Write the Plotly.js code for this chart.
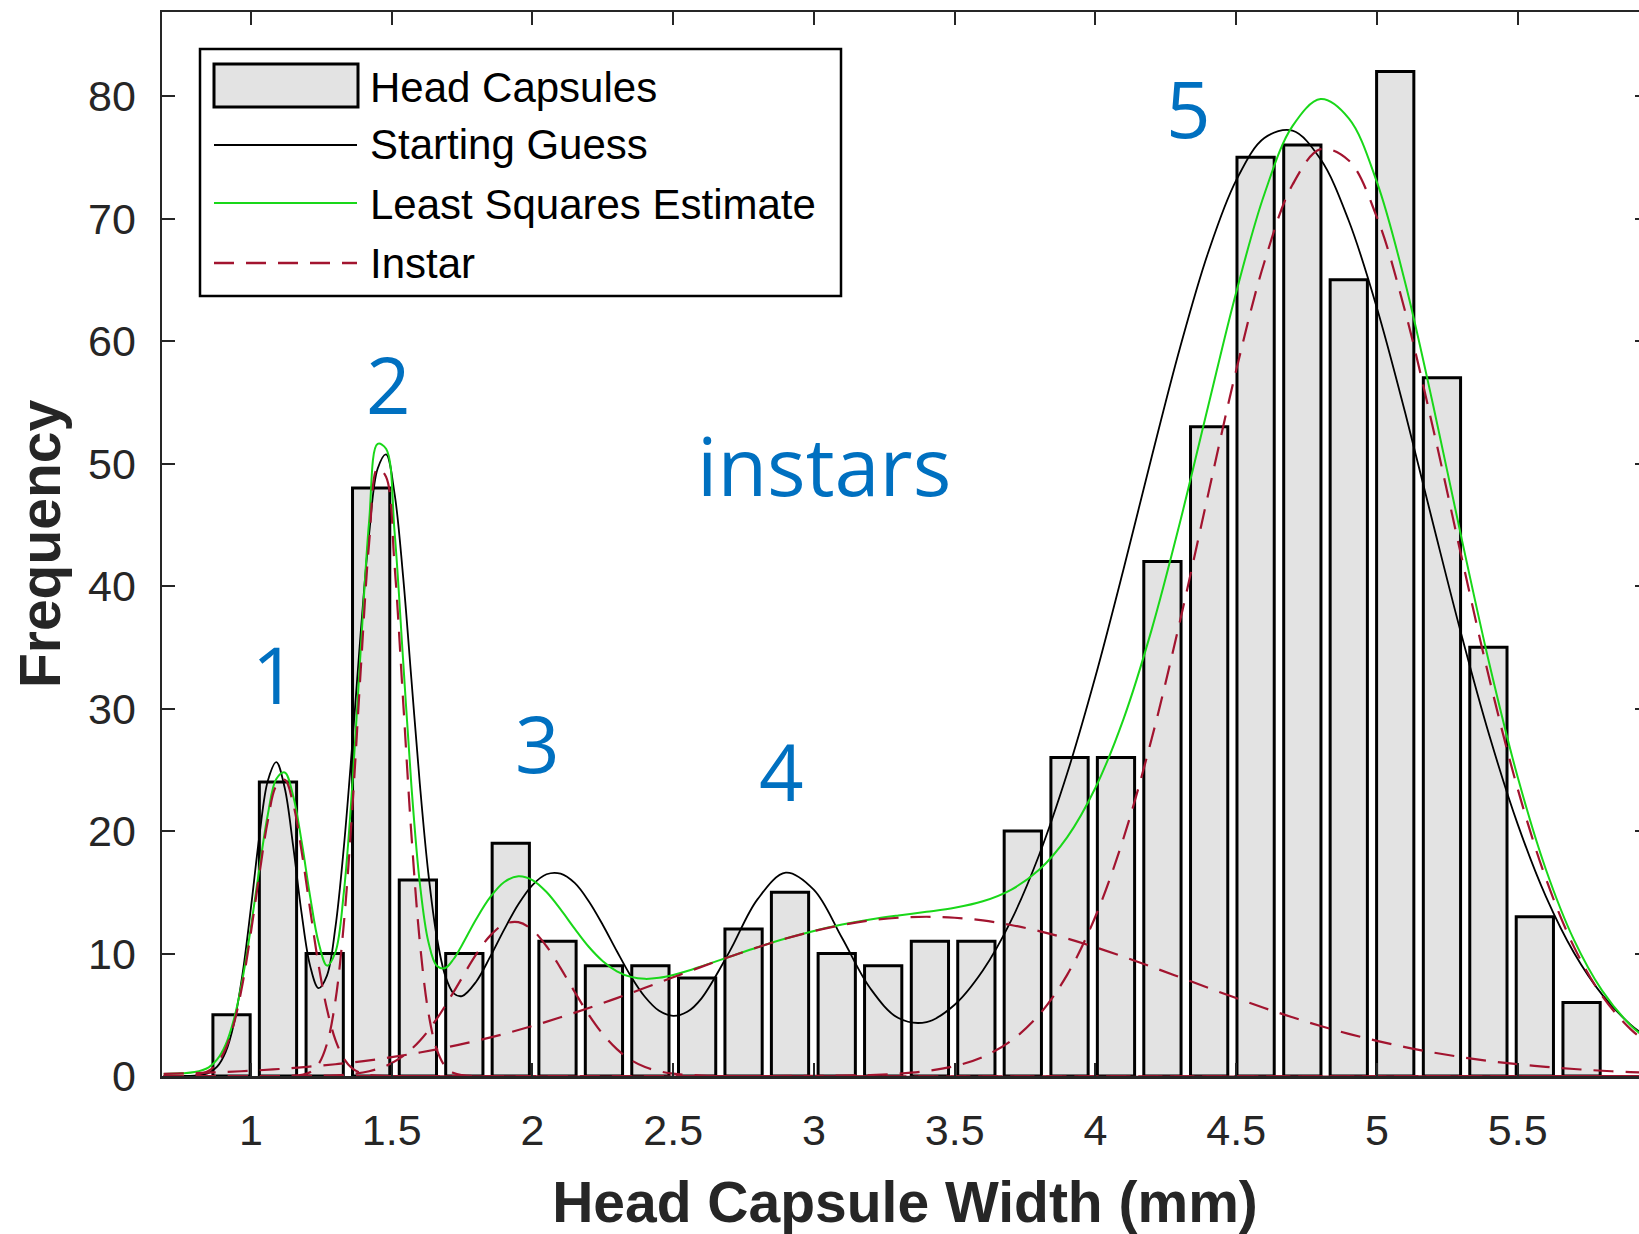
<!DOCTYPE html>
<html>
<head>
<meta charset="utf-8">
<script src="https://cdn.plot.ly/plotly-3.0.1.min.js"></script>
<style>
html,body{margin:0;padding:0;overflow:hidden;background:#ffffff;}
#chart{width:1660px;height:1234px;}
</style>
</head>
<body>
<div id="chart"></div>
<script>
// ---------------- data ----------------
const binCenters = [0.931, 1.096, 1.262, 1.427, 1.593, 1.758, 1.923, 2.089, 2.254, 2.419,
                    2.585, 2.750, 2.915, 3.081, 3.246, 3.412, 3.577, 3.742, 3.908, 4.073,
                    4.238, 4.404, 4.569, 4.735, 4.900, 5.065, 5.231, 5.396, 5.561, 5.727];
const counts = [5, 24, 10, 48, 16, 10, 19, 11, 9, 9,
                8, 12, 15, 10, 9, 11, 11, 20, 26, 26,
                42, 53, 75, 76, 65, 82, 57, 35, 13, 6];

const curveX = [0.69,0.75,0.80,0.85,0.88,0.91,0.94,0.97,1.00,1.03,1.06,1.09,1.12,1.15,1.18,1.21,1.24,1.27,1.30,1.33,
                1.36,1.39,1.42,1.45,1.48,1.51,1.54,1.57,1.60,1.63,1.66,1.69,1.72,1.75,
                1.80,1.85,1.90,1.95,2.00,2.05,2.10,2.15,2.20,2.25,2.30,2.35,2.40,2.45,2.50,2.55,2.60,
                2.70,2.80,2.90,3.00,3.10,3.20,3.30,3.40,3.50,3.60,3.70,3.80,3.90,4.00,4.10,4.20,4.30,4.40,4.50,
                4.60,4.70,4.80,4.90,5.00,5.10,5.20,5.30,5.40,5.50,5.60,5.70,5.80,5.90,5.97];
const startingGuess = [0,0,0.03,0.25,0.76,1.95,4.33,8.31,13.74,19.60,24.11,25.63,23.51,18.76,13.28,9.01,7.17,8.20,12.13,18.68,
                27.10,36.21,44.30,49.57,50.75,47.57,40.91,32.39,23.83,16.58,11.36,8.20,6.75,6.53,
                7.70,9.74,11.97,14.02,15.59,16.47,16.52,15.76,14.27,12.33,10.18,8.13,6.45,5.32,4.91,5.24,6.32,
                10.15,14.44,16.60,15.19,11.26,7.16,4.73,4.40,5.82,8.61,12.66,18.04,24.73,32.61,41.39,50.55,59.41,67.19,73.12,
                76.57,77.17,74.83,69.82,62.70,54.18,45.04,36.04,27.75,20.56,14.66,10.06,6.64,4.22,3.00];
const leastSquares = [0.17,0.22,0.32,0.71,1.35,2.56,4.68,7.91,12.17,16.96,21.35,24.24,24.78,22.86,19.14,14.69,10.92,9.01,10.10,14.99,
                23.70,34.82,45.34,51.60,51.21,44.49,34.13,23.71,15.72,10.98,9.00,8.81,9.55,10.70,
                12.80,14.60,15.84,16.31,16.00,15.02,13.60,12.03,10.55,9.37,8.55,8.09,7.93,8.02,8.25,8.57,8.95,
                9.73,10.51,11.22,11.84,12.36,12.78,13.11,13.40,13.73,14.26,15.20,16.83,19.50,23.53,29.16,36.46,45.16,54.64,63.97,
                71.98,77.54,79.75,78.18,72.97,64.80,54.74,43.97,33.59,24.41,16.88,11.11,6.97,4.17,2.84];

const instar1X = [0.69,0.75,0.80,0.85,0.88,0.91,0.94,0.97,1.00,1.03,1.06,1.09,1.12,1.15,1.18,1.21,1.24,1.27,1.30,1.33,1.36,1.39,1.42,1.45,1.50,5.97];
const instar1Y = [0,0.01,0.08,0.43,1.04,2.23,4.32,7.51,11.74,16.49,20.84,23.68,24.18,22.21,18.34,13.62,9.09,5.46,2.95,1.43,0.62,0.24,0.09,0.03,0,0];

const instar2X = [0.69,1.12,1.15,1.18,1.21,1.24,1.27,1.30,1.33,1.36,1.39,1.42,1.45,1.48,1.51,1.54,1.57,1.60,1.63,1.66,1.69,1.72,1.75,1.80,5.97];
const instar2Y = [0,0,0.02,0.09,0.31,0.97,2.62,6.13,12.43,21.81,33.14,43.58,49.62,48.91,41.74,30.83,19.72,10.92,5.23,2.17,0.78,0.24,0.07,0.01,0];

const instar3X = [0.69,1.24,1.30,1.36,1.42,1.48,1.54,1.60,1.66,1.72,1.80,1.85,1.90,1.95,2.00,2.05,2.10,2.15,2.20,2.25,2.30,2.35,2.40,2.45,2.50,2.60,2.70,5.97];
const instar3Y = [0,0.02,0.06,0.16,0.39,0.83,1.62,2.88,4.66,6.86,9.92,11.46,12.40,12.56,11.92,10.59,8.81,6.86,5.00,3.42,2.19,1.31,0.73,0.39,0.19,0.04,0,0];

const instar4X = [0.69,0.80,0.90,1.00,1.10,1.20,1.30,1.40,1.50,1.60,1.70,1.80,1.90,2.00,2.10,2.20,2.30,2.40,2.50,2.60,
                  2.70,2.80,2.90,3.00,3.10,3.20,3.30,3.40,3.50,3.60,3.70,3.80,3.90,4.00,4.10,4.20,4.30,4.40,4.50,4.60,
                  4.70,4.80,4.90,5.00,5.10,5.20,5.30,5.40,5.50,5.60,5.70,5.80,5.90,5.97];
const instar4Y = [0.17,0.24,0.32,0.43,0.57,0.75,0.96,1.22,1.54,1.92,2.36,2.87,3.44,4.08,4.79,5.55,6.36,7.20,8.06,8.91,
                  9.73,10.51,11.22,11.83,12.33,12.70,12.92,13.00,12.92,12.70,12.33,11.83,11.22,10.51,9.73,8.91,8.06,7.20,6.36,5.55,
                  4.79,4.08,3.44,2.87,2.36,1.92,1.54,1.22,0.96,0.75,0.57,0.43,0.32,0.26];

const instar5X = [0.69,2.80,3.00,3.10,3.20,3.30,3.40,3.50,3.60,3.70,3.80,3.90,4.00,4.10,4.20,4.30,4.40,4.50,4.60,4.70,
                  4.80,4.90,5.00,5.10,5.20,5.30,5.40,5.50,5.60,5.70,5.80,5.90,5.97];
const instar5Y = [0,0,0.01,0.03,0.08,0.19,0.40,0.81,1.56,2.87,5.00,8.28,13.02,19.43,27.55,37.10,47.44,57.61,66.43,72.75,
                  75.67,74.74,70.10,62.44,52.82,42.43,32.37,23.45,16.13,10.54,6.54,3.85,2.58];

const xTickVals = [1, 1.5, 2, 2.5, 3, 3.5, 4, 4.5, 5, 5.5];
const xTickText = ['1', '1.5', '2', '2.5', '3', '3.5', '4', '4.5', '5', '5.5'];
const yTickVals = [0, 10, 20, 30, 40, 50, 60, 70, 80];
const yTickText = ['0', '10', '20', '30', '40', '50', '60', '70', '80'];

const seriesNames = ['Head Capsules', 'Starting Guess', 'Least Squares Estimate', 'Instar'];
const instarLabels = ['1', '2', '3', '4', '5'];
const xAxisTitle = 'Head Capsule Width (mm)';
const yAxisTitle = 'Frequency';
const noteText = 'instars';

// ---------------- styling ----------------
const AXIS_COLOR = '#262626';
const BAR_FILL = '#e3e3e3';
const GREEN = 'rgb(25,215,25)';
const RED = '#a2142f';
const BLUE = '#0070c0';
const FONT = 'Liberation Sans, Arial, Helvetica, sans-serif';
const DASH = '20px,12px';

// plot area in page pixels (used only to place the hand-drawn legend)
const PL = 162, PR = 1648, PT = 12, PB = 1076;
const px = v => (v - PL) / (PR - PL);
const py = v => (PB - v) / (PB - PT);

const instarSets = [[instar1X, instar1Y], [instar2X, instar2Y], [instar3X, instar3Y], [instar4X, instar4Y], [instar5X, instar5Y]];

const traces = [
  {
    type: 'bar', name: seriesNames[0], x: binCenters, y: counts, width: 0.1323,
    marker: {color: BAR_FILL, line: {color: '#000000', width: 3}},
    hoverinfo: 'x+y', showlegend: false
  },
  {
    type: 'scatter', mode: 'lines', name: seriesNames[1], x: curveX, y: startingGuess,
    line: {color: '#000000', width: 1.8, shape: 'spline', smoothing: 1}, showlegend: false
  },
  {
    type: 'scatter', mode: 'lines', name: seriesNames[2], x: curveX, y: leastSquares,
    line: {color: GREEN, width: 2, shape: 'spline', smoothing: 1}, showlegend: false
  }
];
instarSets.forEach((s, i) => {
  traces.push({
    type: 'scatter', mode: 'lines', name: seriesNames[3] + ' ' + instarLabels[i], x: s[0], y: s[1],
    line: {color: RED, width: 2.2, dash: DASH, shape: 'spline', smoothing: 1}, showlegend: false
  });
});

const shapes = [
  // legend frame
  {type: 'rect', xref: 'paper', yref: 'paper', x0: px(200), x1: px(841), y0: py(296), y1: py(49),
   fillcolor: '#ffffff', line: {color: '#000000', width: 2.5}, layer: 'above'},
  // bar symbol
  {type: 'rect', xref: 'paper', yref: 'paper', x0: px(214), x1: px(358), y0: py(107), y1: py(64),
   fillcolor: BAR_FILL, line: {color: '#000000', width: 3}, layer: 'above'},
  // line symbols
  {type: 'line', xref: 'paper', yref: 'paper', x0: px(214), x1: px(357), y0: py(145), y1: py(145),
   line: {color: '#000000', width: 2}, layer: 'above'},
  {type: 'line', xref: 'paper', yref: 'paper', x0: px(214), x1: px(357), y0: py(203), y1: py(203),
   line: {color: GREEN, width: 2.2}, layer: 'above'},
  {type: 'line', xref: 'paper', yref: 'paper', x0: px(214), x1: px(357), y0: py(263), y1: py(263),
   line: {color: RED, width: 2.4, dash: DASH}, layer: 'above'}
];

const legendRowsY = [88, 144, 205, 264];
const annotations = seriesNames.map((t, i) => ({
  xref: 'paper', yref: 'paper', x: px(368), y: py(legendRowsY[i]), xanchor: 'left', yanchor: 'middle',
  text: t, showarrow: false, font: {family: FONT, size: 42, color: '#000000'}
}));

const instarLabelPos = [[1.085, 32.8], [1.487, 56.5], [2.018, 27.2], [2.886, 24.9], [4.332, 79.0]];
instarLabels.forEach((t, i) => {
  annotations.push({
    xref: 'x', yref: 'y', x: instarLabelPos[i][0], y: instarLabelPos[i][1], xanchor: 'center', yanchor: 'middle',
    text: t, showarrow: false, font: {family: 'Open Sans, sans-serif', size: 78, color: BLUE}
  });
});
annotations.push({
  xref: 'x', yref: 'y', x: 3.035, y: 49.9, xanchor: 'center', yanchor: 'middle',
  text: noteText, showarrow: false, font: {family: 'Open Sans, sans-serif', size: 81, color: BLUE}
});

const axisCommon = {
  showline: true, linecolor: AXIS_COLOR, linewidth: 2.5, mirror: 'ticks',
  ticks: 'inside', ticklen: 13, tickwidth: 2, tickcolor: AXIS_COLOR,
  showgrid: false, zeroline: false, automargin: false,
  tickfont: {family: FONT, size: 43, color: AXIS_COLOR}
};

const layout = {
  width: 1660, height: 1234,
  margin: {l: PL, r: 1660 - PR, t: PT, b: 1234 - PB, pad: 0},
  paper_bgcolor: '#ffffff', plot_bgcolor: '#ffffff',
  showlegend: false, bargap: 0,
  xaxis: Object.assign({}, axisCommon, {
    range: [0.684, 5.963], tickmode: 'array', tickvals: xTickVals, ticktext: xTickText,
    ticklabelstandoff: 15,
    title: {text: xAxisTitle, standoff: 30, font: {family: FONT, size: 57, weight: 'bold', color: AXIS_COLOR}}
  }),
  yaxis: Object.assign({}, axisCommon, {
    range: [0, 86.86], tickmode: 'array', tickvals: yTickVals, ticktext: yTickText,
    ticklabelstandoff: 15,
    title: {text: yAxisTitle, standoff: 9, font: {family: FONT, size: 57, weight: 'bold', color: AXIS_COLOR}}
  }),
  shapes: shapes,
  annotations: annotations
};

Plotly.newPlot('chart', traces, layout, {staticPlot: true, displayModeBar: false});
</script>
</body>
</html>
